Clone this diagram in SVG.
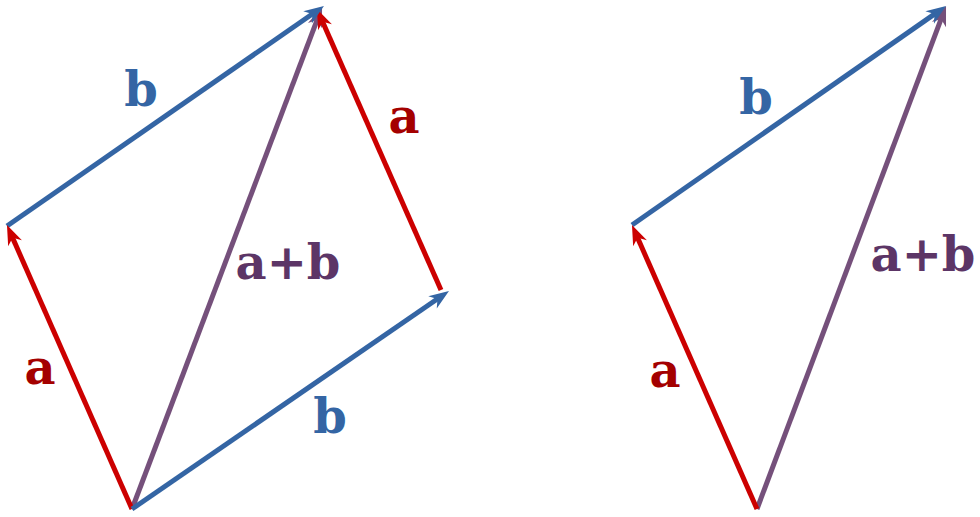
<svg xmlns="http://www.w3.org/2000/svg" width="980" height="517" viewBox="0 0 980 517">
<style>
.ln{fill:none;stroke-width:5;stroke-linecap:butt}
.r{stroke:#cc0000}
.bl{stroke:#3465a4}
.p{stroke:#75507b}
text{font-family:"DejaVu Serif","Liberation Serif",serif;font-weight:bold;font-size:48px;text-anchor:middle}
.tr{fill:#a40000}
.tb{fill:#3465a4}
.tp{fill:#5c3566}
</style>
<defs>
<marker id="mr" markerUnits="userSpaceOnUse" orient="auto" markerWidth="40" markerHeight="40" viewBox="-20 -20 40 40" refX="0" refY="0" overflow="visible"><path d="M12,0 L-8,-7.5 L-2,0 L-8,7.5 Z" fill="#cc0000"/></marker>
<marker id="mb" markerUnits="userSpaceOnUse" orient="auto" markerWidth="40" markerHeight="40" viewBox="-20 -20 40 40" refX="0" refY="0" overflow="visible"><path d="M12,0 L-8,-7.5 L-2,0 L-8,7.5 Z" fill="#3465a4"/></marker>
<marker id="mp" markerUnits="userSpaceOnUse" orient="auto" markerWidth="40" markerHeight="40" viewBox="-20 -20 40 40" refX="0" refY="0" overflow="visible"><path d="M12,0 L-8,-7.5 L-2,0 L-8,7.5 Z" fill="#75507b"/></marker>
</defs>
<g id="connectors">
<line class="ln p" x1="132" y1="509" x2="317.8" y2="18.2" marker-end="url(#mp)"/>
<line class="ln r" x1="441" y1="290" x2="321.8" y2="20" marker-end="url(#mr)"/>
<line class="ln bl" x1="7" y1="226" x2="314.1" y2="12.8" marker-end="url(#mb)"/>
<line class="ln r" x1="132" y1="509" x2="11.8" y2="236" marker-end="url(#mr)"/>
<line class="ln bl" x1="132" y1="509" x2="439.1" y2="297.8" marker-end="url(#mb)"/>
<line class="ln p" x1="757" y1="509" x2="941.8" y2="17.2" marker-end="url(#mp)"/>
<line class="ln bl" x1="632" y1="225" x2="936.2" y2="12.9" marker-end="url(#mb)"/>
<line class="ln r" x1="757" y1="509" x2="636.8" y2="236" marker-end="url(#mr)"/>
</g>
<g id="labels">
<text class="tb" x="141" y="106">b</text>
<text class="tr" x="404" y="133">a</text>
<text class="tp" x="288" y="279">a+b</text>
<text class="tr" x="40" y="384">a</text>
<text class="tb" x="330" y="433">b</text>
<text class="tb" x="756" y="114">b</text>
<text class="tp" x="923" y="271">a+b</text>
<text class="tr" x="665" y="387">a</text>
</g>
</svg>
